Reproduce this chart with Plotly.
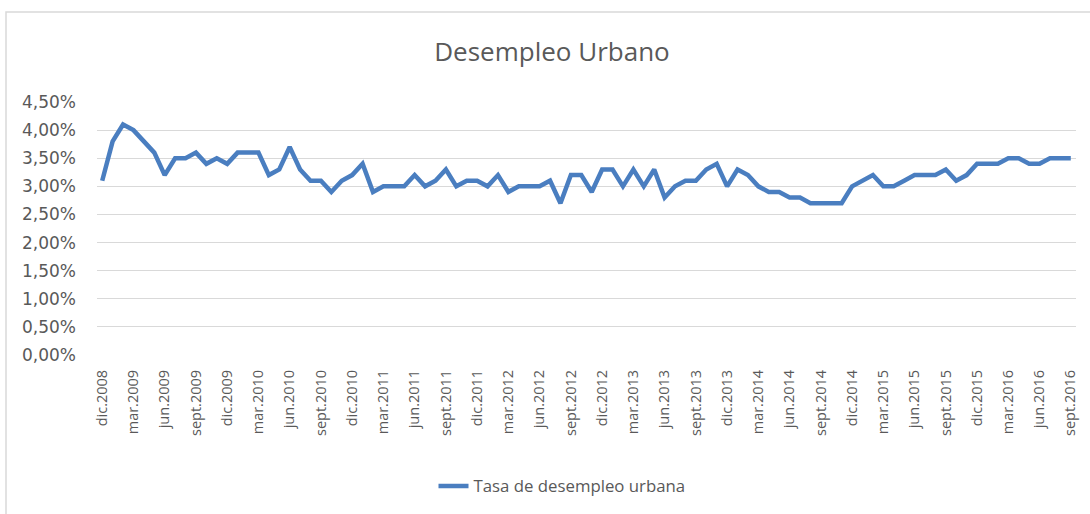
import plotly.graph_objects as go

month_abbr = ["ene", "feb", "mar", "abr", "may", "jun", "jul", "ago", "sept", "oct", "nov", "dic"]
start_year, start_month = 2008, 12  # dic.2008
n_months = 94

categories = []
y, m = start_year, start_month
for _ in range(n_months):
    categories.append(f"{month_abbr[m - 1]}.{y}")
    m += 1
    if m > 12:
        m = 1
        y += 1

tasa_desempleo = [
    3.1, 3.8, 4.1, 4.0, 3.8, 3.6, 3.2, 3.5, 3.5, 3.6, 3.4, 3.5,
    3.4, 3.6, 3.6, 3.6, 3.2, 3.3, 3.7, 3.3, 3.1, 3.1, 2.9, 3.1,
    3.2, 3.4, 2.9, 3.0, 3.0, 3.0, 3.2, 3.0, 3.1, 3.3, 3.0, 3.1,
    3.1, 3.0, 3.2, 2.9, 3.0, 3.0, 3.0, 3.1, 2.7, 3.2, 3.2, 2.9,
    3.3, 3.3, 3.0, 3.3, 3.0, 3.3, 2.8, 3.0, 3.1, 3.1, 3.3, 3.4,
    3.0, 3.3, 3.2, 3.0, 2.9, 2.9, 2.8, 2.8, 2.7, 2.7, 2.7, 2.7,
    3.0, 3.1, 3.2, 3.0, 3.0, 3.1, 3.2, 3.2, 3.2, 3.3, 3.1, 3.2,
    3.4, 3.4, 3.4, 3.5, 3.5, 3.4, 3.4, 3.5, 3.5, 3.5,
]
values = [v / 100 for v in tasa_desempleo]

tick_labels = categories[::3]
y_ticks = [0, 0.005, 0.01, 0.015, 0.02, 0.025, 0.03, 0.035, 0.04, 0.045]

text_color = "#595959"
font_family = "Open Sans, Liberation Sans, sans-serif"

fig = go.Figure()
fig.add_trace(go.Scatter(
    x=categories, y=values, mode="lines",
    name="Tasa de desempleo urbana",
    line=dict(color="#4A7EC0", width=4.5),
))

W, H = 1090, 514
L, R, T, B = 97, 14, 102, 159
pw, ph = W - L - R, H - T - B

fig.update_layout(
    width=W, height=H,
    margin=dict(l=L, r=R, t=T, b=B, autoexpand=False),
    paper_bgcolor="white", plot_bgcolor="white",
    separators=",.",
    font=dict(family=font_family, color=text_color),
    title=dict(text="Desempleo Urbano", x=(552) / W, xref="container", xanchor="center",
               y=1 - 52 / H, yref="container", yanchor="middle",
               font=dict(size=26, color=text_color, family=font_family)),
    showlegend=True,
    legend=dict(orientation="h", x=(562 - L) / pw, xanchor="center",
                y=(H - B - 486) / ph, yanchor="middle",
                font=dict(size=16.8, color=text_color)),
    xaxis=dict(type="category", categoryorder="array", categoryarray=categories,
               range=[-0.5, n_months - 0.5],
               tickmode="array", tickvals=tick_labels, ticktext=tick_labels,
               tickangle=-90, tickfont=dict(size=14.5, color=text_color),
               showgrid=False, showline=False, zeroline=False, ticks=""),
    yaxis=dict(range=[0, 0.045], tickvals=y_ticks, tickformat=".2%",
               tickfont=dict(size=17, color=text_color, family="DejaVu Sans, sans-serif"),
               showgrid=True, gridcolor="#d9d9d9", gridwidth=1,
               zeroline=False, showline=False, ticks=""),
)
fig.update_xaxes(ticklabelstandoff=11)
fig.update_yaxes(ticklabelstandoff=20)

# chart-area border
fig.add_shape(type="rect", xref="paper", yref="paper",
              x0=(6 - L) / pw, x1=(W + 10 - L) / pw,
              y0=(H - B - (H + 10)) / ph, y1=(H - B - 12) / ph,
              line=dict(color="#d9d9d9", width=1.5), fillcolor="rgba(0,0,0,0)",
              layer="below")

fig.write_html("out.html",
               config={"displayModeBar": False},
               post_script="document.body.style.margin='0';document.body.style.overflow='hidden';")
